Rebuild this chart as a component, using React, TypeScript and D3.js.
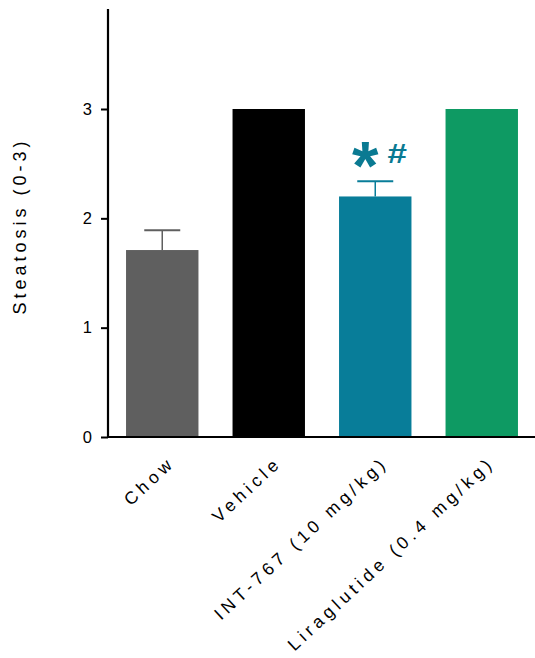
import * as d3 from 'd3';
import React, { useEffect, useRef } from 'react';

const groups = ['Chow', 'Vehicle', 'INT-767 (10 mg/kg)', 'Liraglutide (0.4 mg/kg)'];
const means = [1.71, 3, 2.2, 3];
const errors = [0.18, 0, 0.14, 0];
const colors = ['#5f5f5f', '#000000', '#087d99', '#0e9a63'];
const yTicks = [0, 1, 2, 3];

const font = 'Liberation Sans, Arial, sans-serif';

function App() {
  const ref = useRef<SVGSVGElement>(null);

  useEffect(() => {
    const svg = d3.select(ref.current);
    svg.selectAll('*').remove();

    const width = 535, height = 658;
    const left = 108, right = 535, top = 9, base = 437;

    const x = d3.scaleBand().domain(groups).range([left + 1, right]).paddingInner(0.32).paddingOuter(0.16);
    const y = d3.scaleLinear().domain([0, 3]).range([base, 109]);

    const g = svg.attr('width', width).attr('height', height).append('g');

    // bars
    g.selectAll('rect.bar')
      .data(groups)
      .enter().append('rect')
      .attr('class', 'bar')
      .attr('x', d => x(d)!)
      .attr('width', x.bandwidth())
      .attr('y', (d, i) => y(means[i]))
      .attr('height', (d, i) => base - y(means[i]))
      .style('fill', (d, i) => colors[i]);

    // error bars (upper only)
    groups.forEach((d, i) => {
      if (!errors[i]) return;
      const cx = x(d)! + x.bandwidth() / 2;
      const yt = y(means[i] + errors[i]);
      g.append('line').attr('x1', cx).attr('x2', cx).attr('y1', y(means[i])).attr('y2', yt)
        .attr('stroke', colors[i]).attr('stroke-width', 1.5);
      g.append('line').attr('x1', cx - 18).attr('x2', cx + 18).attr('y1', yt).attr('y2', yt)
        .attr('stroke', colors[i]).attr('stroke-width', 2);
    });

    // significance marks over INT-767
    const ix = x(groups[2])! + x.bandwidth() / 2;
    g.append('text').attr('x', ix - 10).attr('y', 189).attr('text-anchor', 'middle')
      .style('font-family', font).style('font-weight', 'bold')
      .style('font-size', '68px').style('fill', '#0a7a92').text('*');
    g.append('text').attr('x', ix + 22).attr('y', 163).attr('text-anchor', 'middle')
      .style('font-family', font).style('font-weight', 'bold')
      .style('font-size', '28px').style('fill', '#0a7a92')
      .attr('transform', `translate(${ix + 22},0) scale(1.25,1) translate(${-(ix + 22)},0)`)
      .text('#');

    // y axis
    const yAxis = d3.axisLeft(y).tickValues(yTicks).tickFormat(d3.format('d')).tickSize(7).tickPadding(9);
    const ya = g.append('g').attr('transform', `translate(${left},0)`).call(yAxis);
    ya.select('.domain').remove();
    ya.selectAll('line').attr('stroke', '#000').attr('stroke-width', 2);
    ya.selectAll('text').style('font-family', font).style('font-size', '16.5px').style('fill', '#000');
    g.append('line').attr('x1', left).attr('x2', left).attr('y1', top).attr('y2', base + 1)
      .attr('stroke', '#000').attr('stroke-width', 2.2);

    // x axis
    g.append('line').attr('x1', left).attr('x2', right).attr('y1', base).attr('y2', base)
      .attr('stroke', '#000').attr('stroke-width', 2.2);

    const xl = g.append('g');
    xl.selectAll('text')
      .data(groups)
      .enter().append('text')
      .attr('transform', d => `translate(${x(d)! + x.bandwidth() / 2 + 14},${base + 27}) rotate(-43)`)
      .attr('text-anchor', 'end')
      .style('font-family', font)
      .style('font-size', '17.5px')
      .style('letter-spacing', '4.4px')
      .text(d => d);

    // y axis label
    g.append('text')
      .attr('transform', `translate(26,226) rotate(-90)`)
      .attr('text-anchor', 'middle')
      .style('font-family', font)
      .style('font-size', '18px')
      .style('letter-spacing', '4px')
      .text('Steatosis (0-3)');
  }, []);

  return (
    <div style={{ position: 'absolute', left: 0, top: 0 }}>
      <svg ref={ref}></svg>
    </div>
  );
}

export default App;
